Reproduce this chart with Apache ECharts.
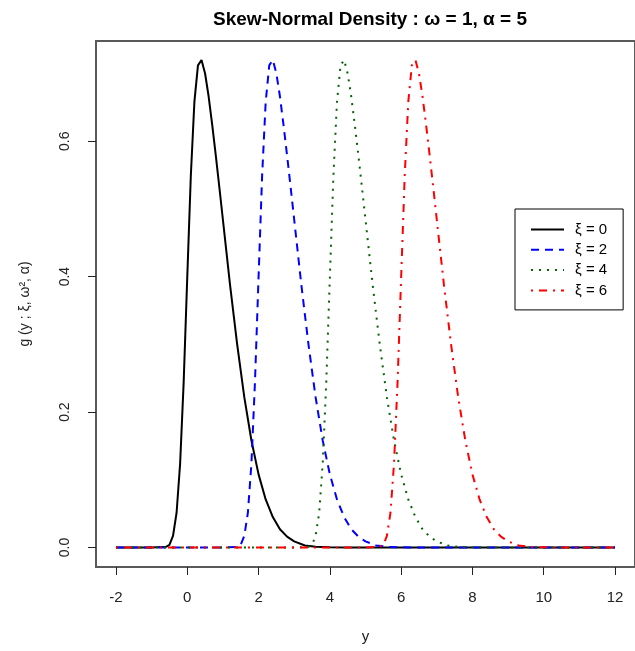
<!DOCTYPE html>
<html>
<head>
<meta charset="utf-8">
<script src="https://cdn.jsdelivr.net/npm/echarts@6/dist/echarts.min.js"></script>
<style>
html,body{margin:0;padding:0;background:#fff;}
#chart{width:635px;height:651px;}
</style>
</head>
<body>
<div id="chart"></div>
<script>
// ---- data ----
const seriesNames = ['ξ = 0', 'ξ = 2', 'ξ = 4', 'ξ = 6'];
const xTicks = [-2, 0, 2, 4, 6, 8, 10, 12];
const yTicks = [0, 0.2, 0.4, 0.6];

const x0 = [-2, -1, -0.6, -0.5, -0.4, -0.3, -0.2, -0.1, 0, 0.1, 0.2, 0.3, 0.4, 0.5, 0.6, 0.7, 0.8, 0.9, 1.0, 1.2, 1.4, 1.6, 1.8, 2.0, 2.2, 2.4, 2.6, 2.8, 3.0, 3.3, 3.6, 4.0, 4.5, 12];
const y0 = [0, 0, 0.001, 0.004, 0.017, 0.051, 0.124, 0.245, 0.399, 0.549, 0.658, 0.712, 0.720, 0.700, 0.666, 0.624, 0.579, 0.532, 0.484, 0.388, 0.300, 0.222, 0.158, 0.108, 0.071, 0.045, 0.027, 0.016, 0.009, 0.003, 0.001, 0.0003, 0, 0];

const x2 = [-2, 1, 1.4, 1.5, 1.6, 1.7, 1.8, 1.9, 2.0, 2.1, 2.2, 2.3, 2.4, 2.5, 2.6, 2.7, 2.8, 2.9, 3.0, 3.2, 3.4, 3.6, 3.8, 4.0, 4.2, 4.4, 4.6, 4.8, 5.0, 5.3, 5.6, 6.0, 6.5, 12];
const y2 = [0, 0, 0.001, 0.004, 0.017, 0.051, 0.124, 0.245, 0.399, 0.549, 0.658, 0.712, 0.720, 0.700, 0.666, 0.624, 0.579, 0.532, 0.484, 0.388, 0.300, 0.222, 0.158, 0.108, 0.071, 0.045, 0.027, 0.016, 0.009, 0.003, 0.001, 0.0003, 0, 0];

const x4 = [-2, 3, 3.4, 3.5, 3.6, 3.7, 3.8, 3.9, 4.0, 4.1, 4.2, 4.3, 4.4, 4.5, 4.6, 4.7, 4.8, 4.9, 5.0, 5.2, 5.4, 5.6, 5.8, 6.0, 6.2, 6.4, 6.6, 6.8, 7.0, 7.3, 7.6, 8.0, 8.5, 12];
const y4 = [0, 0, 0.001, 0.004, 0.017, 0.051, 0.124, 0.245, 0.399, 0.549, 0.658, 0.712, 0.720, 0.700, 0.666, 0.624, 0.579, 0.532, 0.484, 0.388, 0.300, 0.222, 0.158, 0.108, 0.071, 0.045, 0.027, 0.016, 0.009, 0.003, 0.001, 0.0003, 0, 0];

const x6 = [-2, 5, 5.4, 5.5, 5.6, 5.7, 5.8, 5.9, 6.0, 6.1, 6.2, 6.3, 6.4, 6.5, 6.6, 6.7, 6.8, 6.9, 7.0, 7.2, 7.4, 7.6, 7.8, 8.0, 8.2, 8.4, 8.6, 8.8, 9.0, 9.3, 9.6, 10.0, 10.5, 12];
const y6 = [0, 0, 0.001, 0.004, 0.017, 0.051, 0.124, 0.245, 0.399, 0.549, 0.658, 0.712, 0.720, 0.700, 0.666, 0.624, 0.579, 0.532, 0.484, 0.388, 0.300, 0.222, 0.158, 0.108, 0.071, 0.045, 0.027, 0.016, 0.009, 0.003, 0.001, 0.0003, 0, 0];

// ---- build ----
const pairs = (xs, ys) => xs.map((x, i) => [x, ys[i]]);
const allX = [x0, x2, x4, x6];
const allY = [y0, y2, y4, y6];
const colors = ['#000000', '#0000ff', '#006400', '#ff0000'];
const dashes = ['solid', [8, 6], [2, 6], [2, 6, 8, 6]];

const font = 'Liberation Sans, Arial, sans-serif';
const chart = echarts.init(document.getElementById('chart'), null, {renderer: 'canvas'});

chart.setOption({
  animation: false,
  backgroundColor: '#ffffff',
  title: {
    text: 'Skew-Normal Density : ω = 1, α = 5',
    left: 365, top: 5, textAlign: 'center',
    textStyle: {fontFamily: font, fontSize: 19, fontWeight: 'bold', color: '#000'}
  },
  legend: {
    orient: 'vertical',
    left: 515, top: 209,
    itemWidth: 33, itemHeight: 14, itemGap: 5.3,
    padding: [13, 16, 12, 15],
    borderColor: '#000', borderWidth: 1,
    backgroundColor: '#fff',
    selectedMode: false,
    itemStyle: {opacity: 0},
    textStyle: {fontFamily: font, fontSize: 15, color: '#000', padding: [0, 0, 0, 6]},
    data: seriesNames
  },
  grid: {
    left: 96, top: 41, width: 549, height: 526,
    show: true, borderColor: '#5a5a5a', borderWidth: 2, backgroundColor: 'transparent'
  },
  xAxis: {
    type: 'value', min: -2.56, max: 12.56,
    name: 'y', nameLocation: 'middle', nameGap: 62,
    nameTextStyle: {fontFamily: font, fontSize: 15, color: '#222'},
    axisLine: {show: false, onZero: false},
    axisTick: {show: true, inside: false, customValues: xTicks, length: 8, lineStyle: {color: '#222', width: 1}},
    axisLabel: {customValues: xTicks, margin: 23, fontFamily: font, fontSize: 15, color: '#222'},
    splitLine: {show: false}
  },
  yAxis: {
    type: 'value', min: -0.0288, max: 0.748,
    name: 'g (y ; ξ, ω², α)', nameLocation: 'middle', nameGap: 64, nameRotate: 90,
    nameTextStyle: {fontFamily: font, fontSize: 14, color: '#222'},
    axisLine: {show: false, onZero: false},
    axisTick: {show: true, inside: false, customValues: yTicks, length: 8, lineStyle: {color: '#222', width: 1}},
    axisLabel: {customValues: yTicks, rotate: 90, margin: 24, fontFamily: font, fontSize: 14, color: '#222',
      formatter: v => v.toFixed(1)},
    splitLine: {show: false}
  },
  series: seriesNames.map((n, i) => ({
    name: n,
    type: 'line',
    data: pairs(allX[i], allY[i]),
    symbol: 'none',
    showSymbol: false,
    smooth: false,
    clip: true,
    color: colors[i],
    lineStyle: {color: colors[i], width: 2, type: dashes[i]}
  }))
});
</script>
</body>
</html>
